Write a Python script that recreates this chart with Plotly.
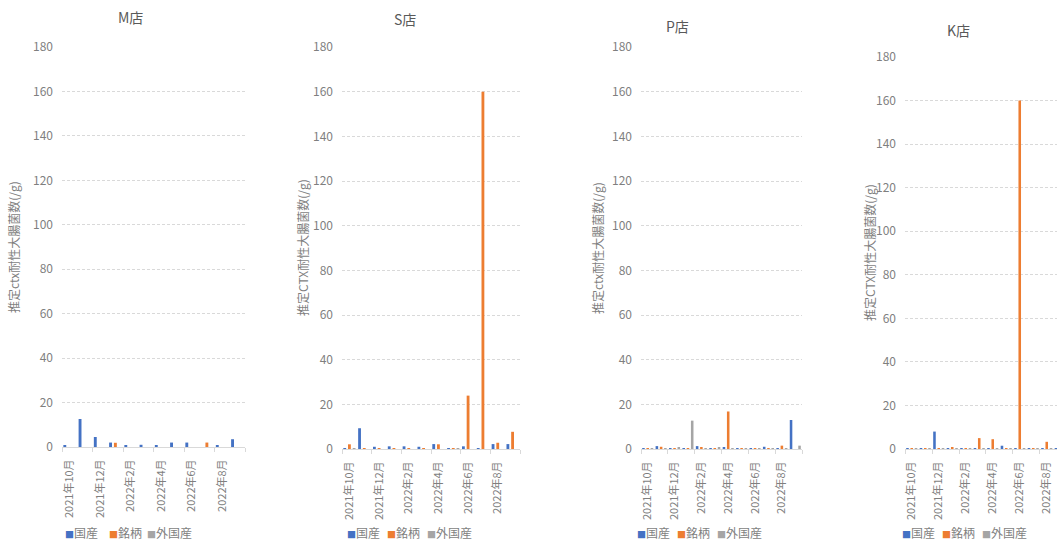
import plotly.graph_objects as go

W, H = 1057, 542

# monthly sampling periods
months = ["2021年10月", "2021年11月", "2021年12月", "2022年1月", "2022年2月", "2022年3月",
          "2022年4月", "2022年5月", "2022年6月", "2022年7月", "2022年8月", "2022年9月"]
series_names = ["国産", "銘柄", "外国産"]
series_colors = ["#4472C4", "#ED7D31", "#A5A5A5"]

# M店
m_domestic = [0.6, 12.6, 4.5, 2.0, 0.5, 1.0, 0.8, 2.0, 2.0, 0.0, 0.5, 3.5]
m_brand = [0.0, 0.0, 0.0, 1.9, 0.0, 0.0, 0.0, 0.0, 0.0, 2.0, 0.0, 0.0]
m_imported = [0.0, 0.0, 0.0, 0.0, 0.0, 0.0, 0.0, 0.0, 0.0, 0.0, 0.0, 0.0]

# S店
s_domestic = [0.3, 9.3, 1.0, 1.2, 1.2, 1.0, 2.2, 0.2, 1.2, 0.3, 2.2, 2.2]
s_brand = [2.1, 0.3, 0.3, 0.3, 0.2, 0.3, 2.1, 0.3, 23.9, 160.0, 2.8, 7.7]
s_imported = [0.2, 0.0, 0.0, 0.0, 0.0, 0.0, 0.0, 0.2, 0.0, 0.0, 0.0, 0.0]

# P店
p_domestic = [0.2, 1.3, 0.2, 0.3, 1.3, 0.3, 0.8, 0.2, 0.2, 1.0, 0.3, 13.0]
p_brand = [0.2, 1.0, 0.2, 0.3, 0.8, 0.3, 16.8, 0.2, 0.2, 0.3, 1.5, 0.0]
p_imported = [0.2, 0.2, 0.5, 12.7, 0.3, 0.8, 0.3, 0.2, 0.2, 0.2, 0.3, 1.5]

# K店
k_domestic = [0.2, 0.2, 8.0, 0.2, 0.2, 0.3, 0.2, 1.5, 0.2, 0.2, 0.2, 0.2]
k_brand = [0.2, 0.2, 0.2, 0.8, 0.3, 5.0, 4.5, 0.3, 160.0, 0.2, 3.3, 0.2]
k_imported = [0.2, 0.2, 0.2, 0.2, 0.2, 0.2, 0.2, 0.2, 0.2, 0.2, 0.2, 0.2]

store_names = ["M店", "S店", "P店", "K店"]
store_series = [
    [m_domestic, m_brand, m_imported],
    [s_domestic, s_brand, s_imported],
    [p_domestic, p_brand, p_imported],
    [k_domestic, k_brand, k_imported],
]
y_titles = ["推定ctx耐性大腸菌数(/g)", "推定CTX耐性大腸菌数(/g)",
            "推定ctx耐性大腸菌数(/g)", "推定CTX耐性大腸菌数(/g)"]
y_ticks = [0, 20, 40, 60, 80, 100, 120, 140, 160, 180]

# pixel layout of each panel
panels = [
    dict(left=62, right=245, bottom=447, top=47, xmax=11.5, title=(130, 17), ytitle_x=14,
         legend=[63, 107, 145]),
    dict(left=342, right=520, bottom=449, top=47, xmax=11.5, title=(405, 19), ytitle_x=302,
         legend=[345, 385, 425]),
    dict(left=641, right=802, bottom=449, top=47, xmax=11.5, title=(677, 26), ytitle_x=597,
         legend=[635, 675, 715]),
    dict(left=905, right=1057, bottom=449, top=57, xmax=10.76, title=(958, 30), ytitle_x=869,
         legend=[900, 940, 980]),
]

FONT = "Noto Sans CJK JP, Noto Sans, sans-serif"
GRID = "#d9d9d9"
TICK_TEXT = "#7f7f7f"
TITLE_TEXT = "#595959"

fig = go.Figure()
annotations = []
layout_axes = {}

for i, (name, data, pnl, ytitle) in enumerate(zip(store_names, store_series, panels, y_titles)):
    n = "" if i == 0 else str(i + 1)
    xa, ya = "x" + n, "y" + n
    for sname, vals, col in zip(series_names, data, series_colors):
        fig.add_trace(go.Bar(
            x=months, y=vals, name=sname, marker=dict(color=col, line=dict(width=0)),
            xaxis=xa, yaxis=ya, showlegend=False,
        ))

    layout_axes["xaxis" + n] = dict(
        domain=[pnl["left"] / W, min(pnl["right"] / W, 1.0)],
        anchor=ya, type="category", range=[-0.5, pnl["xmax"]], automargin=False,
        tickmode="linear", tick0=0, dtick=2, tickangle=-90,
        tickfont=dict(size=11, color=TICK_TEXT, family=FONT),
        showline=True, linecolor=GRID, linewidth=1,
        ticks="outside", ticklen=4, tickcolor=GRID, tickson="boundaries",
        showgrid=False, zeroline=False, ticklabelstandoff=7,
    )
    layout_axes["yaxis" + n] = dict(
        domain=[(H - pnl["bottom"]) / H, (H - pnl["top"]) / H],
        anchor=xa, range=[0, 180], tickmode="array", tickvals=y_ticks, automargin=False,
        tickfont=dict(size=12, color=TICK_TEXT, family=FONT),
        showgrid=True, gridcolor=GRID, gridwidth=1, griddash="3px,2px",
        zeroline=False, showline=False, ticks="", ticklabelstandoff=8,
    )

    # panel title
    annotations.append(dict(
        text=name, x=pnl["title"][0] / W, y=1 - pnl["title"][1] / H, xref="paper", yref="paper",
        xanchor="center", yanchor="middle", showarrow=False,
        font=dict(size=14, color=TITLE_TEXT, family=FONT),
    ))
    # vertical axis title
    annotations.append(dict(
        text=ytitle, x=pnl["ytitle_x"] / W, y=1 - (pnl["top"] + pnl["bottom"]) / 2 / H,
        xref="paper", yref="paper", xanchor="center", yanchor="middle", textangle=-90,
        showarrow=False, font=dict(size=12, color=TICK_TEXT, family=FONT),
    ))
    # series key beneath the panel
    for lx, sname, col in zip(pnl["legend"], series_names, series_colors):
        annotations.append(dict(
            text=f"<span style='color:{col};font-size:9px'>■</span>{sname}",
            x=lx / W, y=1 - 532 / H, xref="paper", yref="paper",
            xanchor="left", yanchor="middle", showarrow=False,
            font=dict(size=12, color=TICK_TEXT, family=FONT),
        ))

fig.update_layout(
    width=W, height=H, margin=dict(l=0, r=0, t=0, b=0, autoexpand=False),
    paper_bgcolor="white", plot_bgcolor="white",
    barmode="group", bargap=0.05, bargroupgap=0.4,
    annotations=annotations, font=dict(family=FONT),
    **layout_axes,
)

fig.write_html("out.html")
